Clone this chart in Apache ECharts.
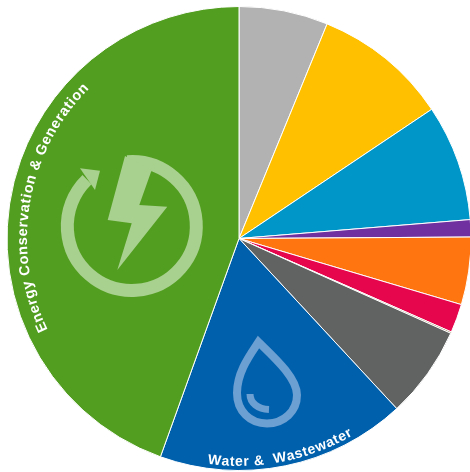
<!DOCTYPE html>
<html><head><meta charset="utf-8">
<style>html,body{margin:0;padding:0;background:#fff}#c{width:470px;height:472px}</style>
<script src="https://cdn.jsdelivr.net/npm/echarts@6/dist/echarts.min.js"></script>
</head><body><div id="c"></div>
<script>
const categories = ['', '', '', '', '', '', '', '', 'Water &  Wastewater', 'Energy Conservation & Generation'];
const values = [6.2, 9.4, 8.1, 1.2, 4.7, 2.0, 0.1, 6.4, 17.4, 44.5];
const colors = ['#b2b2b2', '#ffc000', '#0096c8', '#7030a0', '#ff7510', '#e6064e', '#8b6b3c', '#616362', '#0060ac', '#529e21'];

const CX = 239, CY = 238.5, R = 232;
const rad = d => d * Math.PI / 180;
const ctx = document.createElement('canvas').getContext('2d');

function arcText(text, font, radius, fromDeg, toDeg) {
  ctx.font = font;
  const widths = [...text].map(c => ctx.measureText(c).width);
  const total = widths.reduce((a, b) => a + b, 0);
  const spanPx = Math.abs(toDeg - fromDeg) * Math.PI / 180 * radius;
  const extra = (spanPx - total) / (widths.length - 1);
  const dir = toDeg > fromDeg ? 1 : -1;
  let pos = 0;
  return [...text].map((c, i) => {
    const mid = pos + widths[i] / 2;
    pos += widths[i] + extra;
    const th = rad(fromDeg + dir * mid / radius * 180 / Math.PI);
    return {
      type: 'text', z: 10,
      x: CX + radius * Math.sin(th), y: CY - radius * Math.cos(th),
      rotation: dir > 0 ? -th : Math.PI - th,
      style: { text: c, font, fill: '#fff', align: 'center', verticalAlign: 'middle' }
    };
  });
}

echarts.graphic.registerShape('dropBody', echarts.graphic.extendPath('M258.5 342 C250 355 237 372 237 393 C237 411 250 423.5 267 423.5 C284 423.5 297 411 297 395 C297 378 275 358 258.5 342 Z', {}));
echarts.graphic.registerShape('dropShine', echarts.graphic.extendPath('M250 394 C250 403 258 409 269 409.5', {}));

const boltColor = '#a8d08e', dropColor = '#6c9fd2';
const icons = [
  { type: 'arc', z: 5, shape: { cx: 131.8, cy: 226, r: 64.5, startAngle: rad(-94), endAngle: rad(226), clockwise: true },
    style: { stroke: boltColor, lineWidth: 13, fill: null } },
  { type: 'polygon', z: 5, shape: { points: [[80, 168.3], [100, 170.7], [95, 190]] }, style: { fill: boltColor } },
  { type: 'polygon', z: 5, shape: { points: [[125, 156], [151.7, 170], [139.3, 205], [167.3, 206.7], [117.3, 270], [131.7, 223.3], [107.7, 220]] }, style: { fill: boltColor } },
  { type: 'dropBody', z: 5, style: { stroke: dropColor, lineWidth: 8, fill: null } },
  { type: 'dropShine', z: 5, style: { stroke: dropColor, lineWidth: 7, fill: null } }
];

const chart = echarts.init(document.getElementById('c'), null, { renderer: 'canvas' });
chart.setOption({
  animation: false,
  backgroundColor: '#fff',
  series: [{
    type: 'pie', center: [CX, CY], radius: [0, R], startAngle: 90, clockwise: true, minAngle: 0,
    label: { show: false }, labelLine: { show: false }, silent: true,
    itemStyle: { borderColor: '#fff', borderWidth: 1 },
    data: values.map((v, i) => ({ name: categories[i], value: v, itemStyle: { color: colors[i] } }))
  }],
  graphic: [
    ...icons,
    ...arcText(categories[9], 'bold 14.5px "Liberation Sans"', 216, 244.5, 315),
    ...arcText(categories[8], 'bold 14px "Liberation Sans"', 223.5, 188, 150)
  ]
});
</script></body></html>
